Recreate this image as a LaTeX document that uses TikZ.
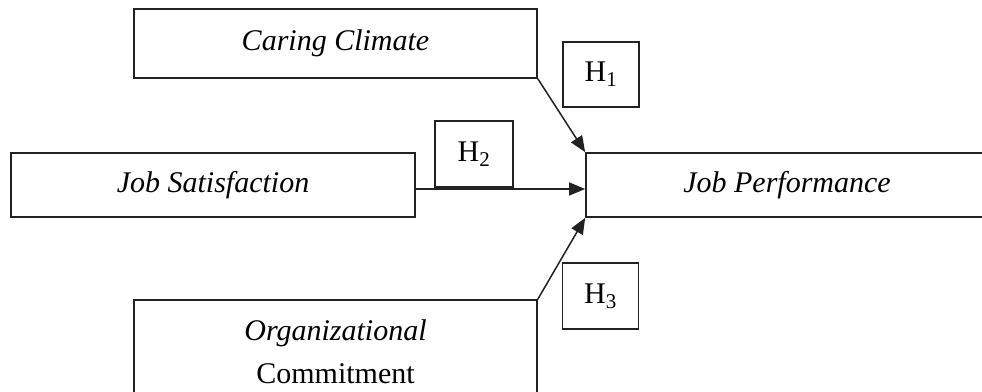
\documentclass[tikz,border=0pt]{standalone}
\usepackage{fontspec}
\setmainfont{Liberation Serif}
\usetikzlibrary{positioning, arrows.meta}
\definecolor{Ink}{HTML}{222222}
\tikzset{
    varbox/.style={rectangle, draw=Ink, line width=1.7pt, inner sep=0pt, align=center, font=\fontsize{30}{43}\selectfont},
    hypbox/.style={rectangle, draw=Ink, line width=1.7pt, inner sep=0pt, minimum width=76pt, minimum height=65pt, font=\fontsize{30}{36}\selectfont},
    arrow/.style={-{Triangle[length=16pt,width=13pt]}, line width=1.5pt, color=Ink},
}

\begin{document}
\begin{tikzpicture}[x=1pt,y=-1pt]
                \useasboundingbox (0,0) rectangle (982,391);

                % Variables
                \node[varbox, minimum width=403pt, minimum height=69pt] (care) at (335.5,43.5) {\textit{Caring Climate}};
                \node[varbox, minimum width=404pt, minimum height=64pt] (sat) at (213,185) {\textit{Job Satisfaction}};
                \node[varbox, minimum width=402pt, minimum height=64pt] (perf) at (787,185) {\textit{Job Performance}};
                \node[varbox, minimum width=403pt, minimum height=104pt] (comm) at (335.5,352) {\textit{Organizational}\\Commitment};

                % Hypotheses
                \node[hypbox] (h1) at (601,74.5) {H\textsubscript{1}};
                \node[hypbox, minimum width=78pt, minimum height=66pt] (h2) at (474,154) {H\textsubscript{2}};
                \node[hypbox, minimum height=66pt] (h3) at (600.5,296) {H\textsubscript{3}};

                % Paths
                \draw[arrow] (care.south east) -- (perf.north west);
                \draw[arrow] ([yshift=-4pt]sat.east) -- ([yshift=-4pt]perf.west);
                \draw[arrow] (comm.north east) -- (perf.south west);

            \end{tikzpicture}
\end{document}
